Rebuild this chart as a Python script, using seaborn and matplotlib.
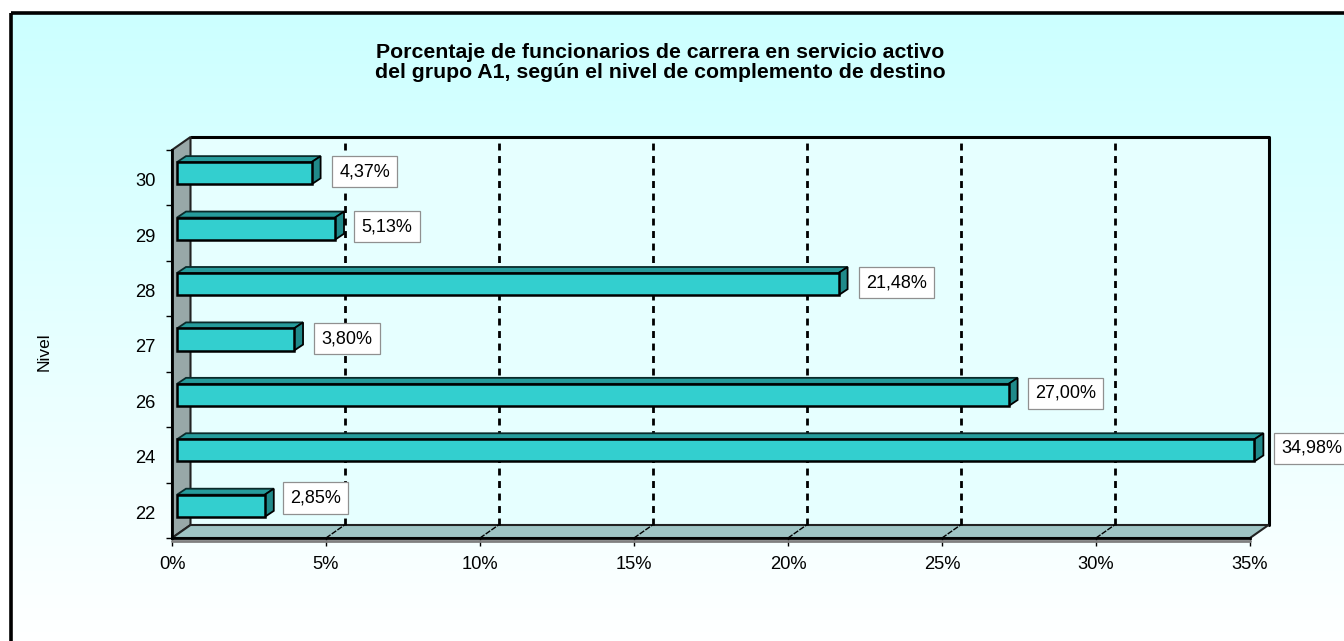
import matplotlib
matplotlib.use("Agg")
import matplotlib.pyplot as plt
from matplotlib.patches import Polygon, Rectangle
from matplotlib.transforms import Affine2D, IdentityTransform
import seaborn as sns
import numpy as np
import pandas as pd

niveles = ["30", "29", "28", "27", "26", "24", "22"]
porcentajes = [4.37, 5.13, 21.48, 3.80, 27.00, 34.98, 2.85]
ticks_x = [0, 5, 10, 15, 20, 25, 30, 35]
titulo_1 = "Porcentaje de funcionarios de carrera en servicio activo"
titulo_2 = "del grupo A1, según el nivel de complemento de destino"

W, H = 1344, 641
sns.set_theme(style="white")
plt.rcParams["font.family"] = ["Liberation Sans", "DejaVu Sans"]

fig = plt.figure(figsize=(W / 100, H / 100), dpi=100, facecolor="white")

# fondo con degradado y marco exterior
fondo = fig.add_axes([0, 0, 1, 1], zorder=0)
grad = np.linspace(0, 1, 256).reshape(-1, 1)
cmap = matplotlib.colors.LinearSegmentedColormap.from_list("f", ["#CCFFFF", "#FFFFFF"])
fondo.imshow(grad, cmap=cmap, extent=[11, W + 5, H + 5, 13], aspect="auto")
fondo.add_patch(Rectangle((11, 13), W, H, fill=False, ec="black", lw=2.6))
fondo.set_xlim(0, W)
fondo.set_ylim(H, 0)
fondo.axis("off")
fondo.text(660, 52, titulo_1, ha="center", va="center", fontsize=15.3, fontweight="bold", color="black")
fondo.text(660, 72, titulo_2, ha="center", va="center", fontsize=15.3, fontweight="bold", color="black")
fondo.text(44, 352, "Nivel", rotation=90, ha="center", va="center", fontsize=12.5, color="black")

ax = fig.add_axes([172 / W, (H - 538) / H, 1078 / W, 388 / H], zorder=1)
ax.patch.set_alpha(0)

df = pd.DataFrame({"nivel": niveles, "pct": porcentajes})
sns.barplot(data=df, x="pct", y="nivel", order=niveles, orient="h", color="#33CFCF",
            saturation=1, width=0.4, edgecolor="black", linewidth=1.8, ax=ax, zorder=5)
barras = list(ax.patches)

ax.set_xlim(0, 35)
ax.set_ylim(6.5, -0.5)
ax.set_xlabel("")
ax.set_ylabel("")

# profundidad en pixeles
DX, DY = 18.5, 13
atras = ax.transData + Affine2D().translate(DX, DY)
x0, x1 = 0, 35
y0, y1 = 6.5, -0.5
a = ax.transData.transform([(x0, y0), (x1, y0), (x1, y1), (x0, y1)])

# pared de fondo, pared izquierda y suelo
ax.add_patch(Rectangle((x0, y1), x1 - x0, y0 - y1, transform=atras, fc="#E6FFFF", ec="none",
                       zorder=1, clip_on=False))
ax.plot([x0, x1, x1], [y1, y1, y0], transform=atras, color="black", lw=2.2, zorder=2, clip_on=False)
ax.add_patch(Polygon([a[0], a[3], a[3] + (DX, DY), a[0] + (DX, DY)], closed=True, clip_on=False,
                     transform=IdentityTransform(), fc="#98A8A8", ec="#222222", lw=1.5, zorder=2))
ax.add_patch(Polygon([a[0], a[1], a[1] + (DX, DY), a[0] + (DX, DY)], closed=True, clip_on=False,
                     transform=IdentityTransform(), fc="#9FC4C4", ec="#222222", lw=1.5, zorder=2))
ax.plot([x0, x1], [y0, y0], transform=ax.transData + Affine2D().translate(0, -2.5),
        color="#808080", lw=2, zorder=2, clip_on=False)

# rejilla discontinua y su continuacion en el suelo
for t in ticks_x[1:-1]:
    ax.plot([t, t], [y0, y1], transform=atras, color="black", lw=2, ls=(0, (2.5, 2)), zorder=3, clip_on=False)
    p = ax.transData.transform((t, y0))
    ax.plot([p[0], p[0] + DX], [p[1], p[1] + DY], transform=IdentityTransform(), color="black",
            lw=1, ls=(0, (4, 1)), zorder=3, clip_on=False)

# caras de las barras en 3D
desp = ax.transData + Affine2D().translate(5, 4.5)
for b in barras:
    b.set_transform(desp)
    b.set_clip_on(False)
    q = desp.transform([(b.get_x(), b.get_y()), (b.get_x() + b.get_width(), b.get_y() + b.get_height())])
    xi, xf = q[0][0], q[1][0]
    yt, yb = q[0][1], q[1][1]
    ax.add_patch(Polygon([(xi, yt), (xf, yt), (xf + 9, yt + 6), (xi + 9, yt + 6)], closed=True, clip_on=False,
                         transform=IdentityTransform(), fc="#269C9C", ec="#0A2A2A", lw=1.3, zorder=4))
    ax.add_patch(Polygon([(xf, yt), (xf + 9, yt + 6), (xf + 9, yb + 6), (xf, yb)], closed=True, clip_on=False,
                         transform=IdentityTransform(), fc="#208A8A", ec="black", lw=1.3, zorder=4))

# etiquetas de valor
ajuste_y = [1.5, 2, 1.5, 1, 1.5, 2, 8]
ajuste_x = [0, -1, 5, 0, 4, 4, -2.5]
for i, v in enumerate(porcentajes):
    ax.annotate(f"{v:.2f}%".replace(".", ","), xy=(v, i), xycoords="data",
                xytext=(58 + ajuste_x[i], 4.5 + ajuste_y[i]), textcoords="offset pixels",
                ha="center", va="center", fontsize=13, color="black", zorder=8,
                annotation_clip=False,
                bbox=dict(boxstyle="square,pad=0.4", fc="white", ec="#909090", lw=0.9))

# ejes
ax.set_xticks(ticks_x)
ax.set_xticklabels([f"{t}%" for t in ticks_x], fontsize=13.2, color="black")
ax.set_yticks(range(len(niveles)))
ax.set_yticklabels(niveles, fontsize=13.2, color="black")
ax.set_yticks(np.arange(-0.5, 7), minor=True)
ax.tick_params(axis="y", which="major", length=0, pad=12)
ax.tick_params(axis="y", which="minor", length=4, width=1, color="black", left=True)
ax.tick_params(axis="x", which="major", length=6, width=1, color="black", bottom=True, pad=7)
for label in ax.get_yticklabels():
    label.set_transform(label.get_transform() + Affine2D().translate(0, -2))
sns.despine(ax=ax, top=True, right=True)
for lado in ["left", "bottom"]:
    ax.spines[lado].set_color("black")
    ax.spines[lado].set_linewidth(2)
    ax.spines[lado].set_zorder(3)

fig.savefig("out.png", dpi=100)
